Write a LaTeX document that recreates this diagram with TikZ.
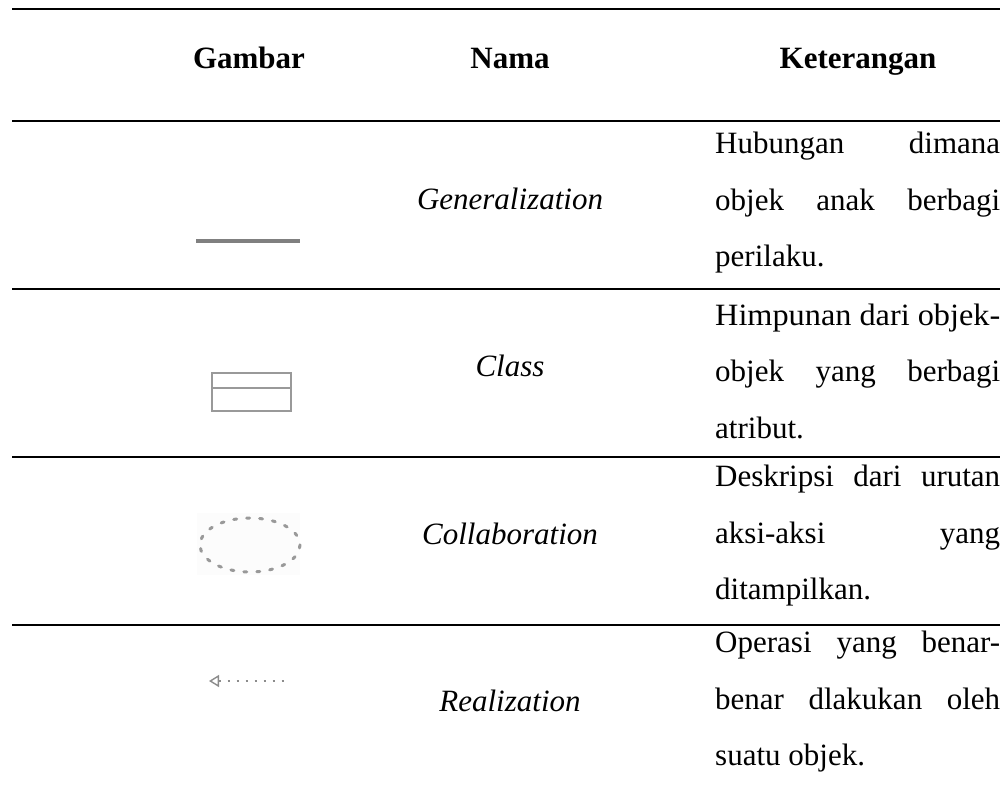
\documentclass[tikz,border=0pt]{standalone}
\usepackage{fontspec}
\setmainfont{Liberation Serif}
\usepackage{graphicx}
\usetikzlibrary{arrows.meta}

% one justified line of the description column
\newcommand{\jline}[1]{\makebox[285pt][s]{#1}}

\begin{document}
\begin{tikzpicture}[
    x=1pt, y=-1pt,
    rule/.style={line width=2pt, black},
    head/.style={anchor=base, font=\fontsize{31}{37}\selectfont\bfseries},
    nama/.style={anchor=base, font=\fontsize{31}{37}\selectfont\itshape},
    desc/.style={anchor=west, align=left, inner sep=0pt, font=\fontsize{31}{56.5}\selectfont},
    icon/.style={draw=black!40, line width=1.8pt}
]
\useasboundingbox (0,0) rectangle (1003,788);

% Table rules
\foreach \y in {9,121,289,457,625}
  \draw[rule] (12,\y) -- (1000,\y);

% Header
\node[head] (gambar) at (249,68) {Gambar};
\node[head] (nama) at (510,68) {Nama};
\node[head] (ket) at (858,68) {Keterangan};

% Row 1: Generalization
\draw[black!50, line width=3.5pt] (196,241) -- (300,241);
\node[nama] (gen) at (510,209) {Generalization};
\node[desc] (ketgen) at (715,203) {\jline{Hubungan dimana}\\\jline{objek anak berbagi}\\perilaku.};

% Row 2: Class
\draw[icon] (212,373) rectangle (291,411);
\draw[icon] (212,388) -- (291,388);
\node[nama] (cls) at (510,376) {Class};
\node[desc] (ketcls) at (715,371) {\resizebox{285pt}{\height}{Himpunan dari objek-}\\\jline{objek yang berbagi}\\atribut.};

% Row 3: Collaboration
\fill[black!1] (197,513) rectangle (300,575);
\draw[black!40, line width=3pt, line cap=round, dash pattern=on 3pt off 10pt] (250,545) ellipse [x radius=50, y radius=27];
\node[nama] (collab) at (510,544) {Collaboration};
\node[desc] (ketcollab) at (715,536) {\jline{Deskripsi dari urutan}\\\jline{aksi-aksi yang}\\ditampilkan.};

% Row 4: Realization
\coordinate (rtip) at (209,681);
\coordinate (rend) at (289,681);
\draw[black!45, line width=2pt, dash pattern=on 2pt off 7pt, {Triangle[open, length=10pt, width=12pt, line width=1.4pt]}-] (rtip) -- (rend);
\node[nama] (real) at (510,711) {Realization};
\node[desc] (ketreal) at (715,702) {\jline{Operasi yang benar-}\\\jline{benar dlakukan oleh}\\suatu objek.};

\end{tikzpicture}
\end{document}
